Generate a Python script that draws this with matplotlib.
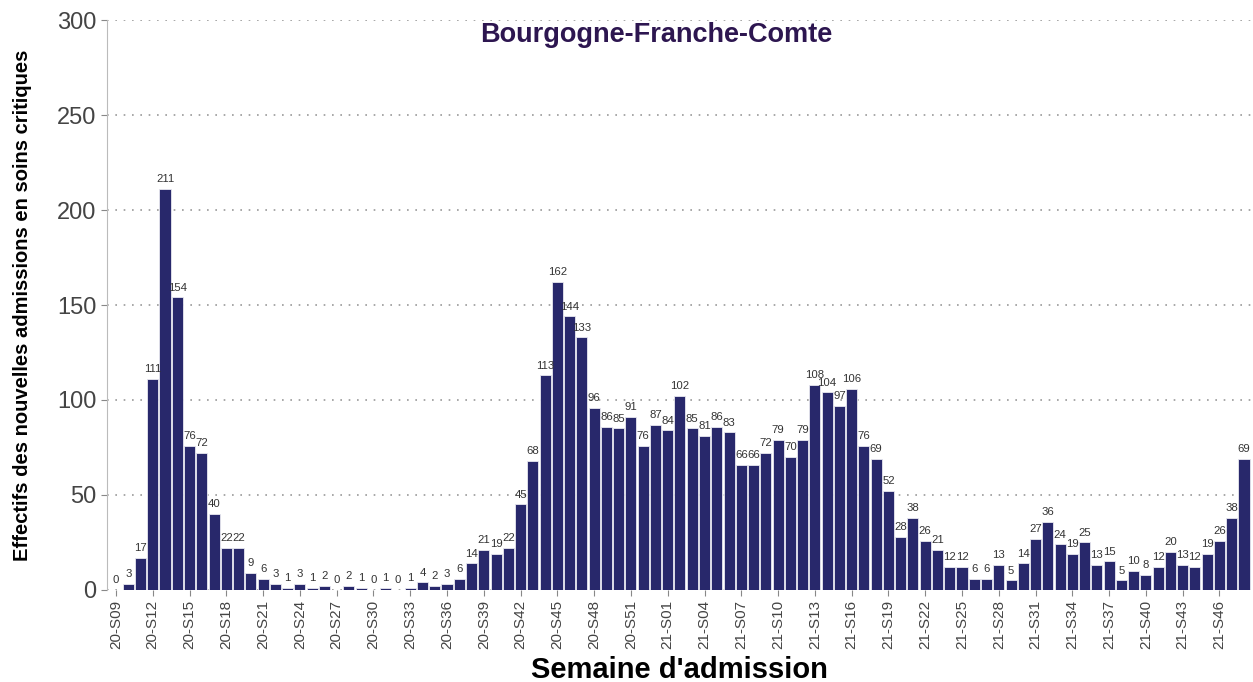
import matplotlib.pyplot as plt
import numpy as np

plt.rcParams['font.family'] = ['Liberation Sans', 'DejaVu Sans']

# weekly counts, 20-S09 .. 20-S53 then 21-S01 .. 21-S48
weeks_2020 = [f"20-S{w:02d}" for w in range(9, 54)]
weeks_2021 = [f"21-S{w:02d}" for w in range(1, 49)]
weeks = weeks_2020 + weeks_2021

values_2020 = [0, 3, 17, 111, 211, 154, 76, 72, 40, 22, 22, 9, 6, 3, 1, 3, 1, 2, 0,
               2, 1, 0, 1, 0, 1, 4, 2, 3, 6, 14, 21, 19, 22, 45, 68, 113, 162, 144,
               133, 96, 86, 85, 91, 76, 87]
values_2021 = [84, 102, 85, 81, 86, 83, 66, 66, 72, 79, 70, 79, 108, 104, 97, 106, 76,
               69, 52, 28, 38, 26, 21, 12, 12, 6, 6, 13, 5, 14, 27, 36, 24, 19, 25,
               13, 15, 5, 10, 8, 12, 20, 13, 12, 19, 26, 38, 69]
values = values_2020 + values_2021

title = "Bourgogne-Franche-Comte"
bar_color = "#28286B"

fig = plt.figure(figsize=(12.53, 6.82), dpi=100)
ax = fig.add_axes([0.0854, 0.135, 0.913, 0.8355])

x = np.arange(len(values))
ax.bar(x, values, width=0.9, color=bar_color, edgecolor="#E8E8F0", linewidth=0.6, zorder=3)
for xi, v in zip(x, values):
    ax.text(xi, v + 2.5, str(v), ha="center", va="bottom", fontsize=8.2, color="#333333", zorder=4)

ax.set_xlim(-0.73, len(values) - 0.43)
ax.set_ylim(0, 300)
ax.set_yticks(range(0, 301, 50))
ax.tick_params(axis="y", labelsize=17, labelcolor="#444444", color="#888888", length=4)
ax.set_xticks(x[::3])
ax.set_xticklabels(weeks[::3], rotation=90, fontsize=11, color="#444444")
ax.tick_params(axis="x", color="#888888", length=4)

ax.grid(axis="y", linestyle=(0, (1, 4)), color="#999999", linewidth=1.2, zorder=0)
for s in ["top", "right", "bottom"]:
    ax.spines[s].set_visible(False)
ax.spines["left"].set_color("#BBBBBB")

ax.text(0.48, 0.997, title, transform=ax.transAxes, ha="center", va="top",
        fontsize=19.5, fontweight="bold", color="#2D1650")
ax.set_ylabel("Effectifs des nouvelles admissions en soins critiques",
              fontsize=14.5, fontweight="bold")
ax.yaxis.set_label_coords(-0.066, 0.5)
ax.set_xlabel("Semaine d'admission", fontsize=21, fontweight="bold", labelpad=5)

fig.savefig("out.png", dpi=100)
